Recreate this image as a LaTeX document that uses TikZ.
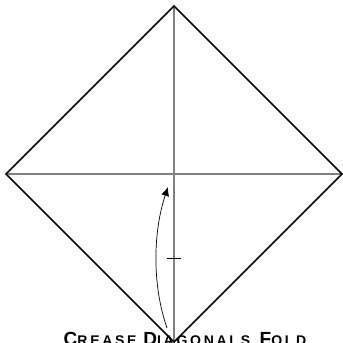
\documentclass[tikz,border=0pt]{standalone}
\usepackage{fontspec}
\setmainfont{Liberation Sans}
\usetikzlibrary{arrows.meta, calc, positioning}
\definecolor{creasegray}{HTML}{808080}
\newcommand{\capsword}[2]{{\fontsize{19}{19}\selectfont #1}{\fontsize{14}{14}\selectfont\addfontfeature{LetterSpace=19.5}#2}}
\tikzset{
  foldedge/.style={line width=1.6pt,black},
  creaseline/.style={line width=1.2pt,creasegray},
  foldarrow/.style={line width=0.7pt,black,-{Latex[length=9pt,width=8pt]}},
}

\begin{document}
\begin{tikzpicture}[x=1pt,y=-1pt,font=\bfseries]
      \useasboundingbox (0,0) rectangle (343,343);
      \clip (0,0) rectangle (343,343);
      \coordinate (top) at (174,6);
      \coordinate (left) at (6,174);
      \coordinate (right) at (342,174);
      \coordinate (bottom) at (174,342);
      \coordinate (tickleft) at (167,258);
      \coordinate (tickright) at (181,258);
      \coordinate (arrowstart) at (167,328);
      \coordinate (arrowend) at (168,187);
      \draw[creaseline] (top) -- (bottom);
      \draw[creaseline] (left) -- (right);
      \draw[line width=0.6pt] (tickleft) -- (tickright);
      \draw[foldedge,line join=miter] (top) -- (right) -- (bottom) -- (left) -- cycle;
      \draw[foldarrow] (arrowstart) .. controls (152,285) and (153,232) .. (arrowend);
      \node[anchor=base,inner sep=0pt] (caption) at (185,345)
        {\capsword{C}{REASE}\hspace{4pt} \capsword{D}{IAGONALS}, \hspace{4pt}\capsword{F}{OLD}};
    \end{tikzpicture}
\end{document}
